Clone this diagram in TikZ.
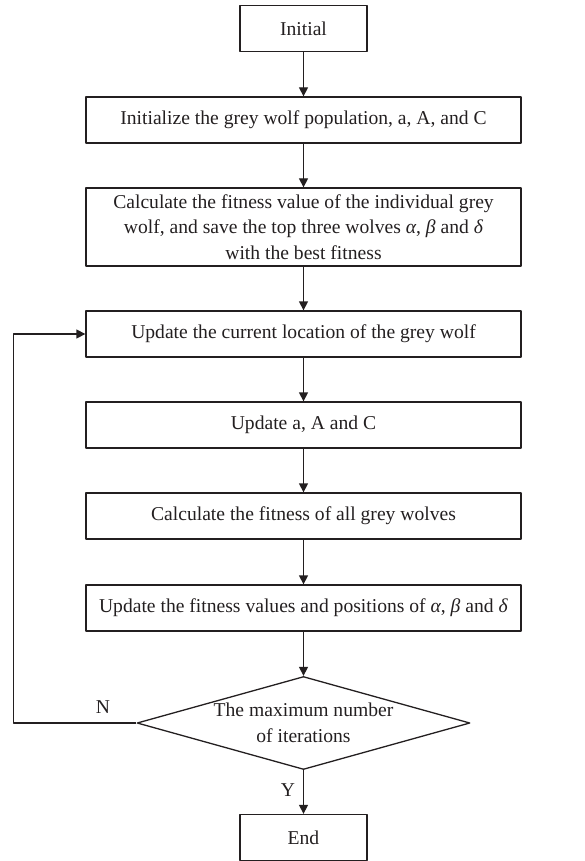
\documentclass[tikz,border=0pt]{standalone}
\usepackage{fontspec}
\setmainfont{Liberation Serif}
\usetikzlibrary{shapes.geometric,arrows.meta}
\definecolor{ink}{HTML}{231F20}

\begin{document}
\begin{tikzpicture}[x=0.5pt, y=-0.5pt, line width=0.65pt, line join=round, draw=ink, text=ink,
    txt/.style={font=\fontsize{9.8}{12.8}\selectfont, align=center},
    box/.style={txt, draw, rectangle, inner sep=0pt, minimum width=217.5pt, minimum height=23pt},
    endbox/.style={box, minimum width=63.5pt},
    decision/.style={txt, draw, diamond, aspect=3.58, inner sep=0pt, minimum width=166.5pt, minimum height=46.5pt},
    arr/.style={-{Triangle[length=4.5pt,width=4.5pt]}}]
    \useasboundingbox (0,0) rectangle (584,861);
    % blocks
    \node[endbox] (init) at (303.5,28.5) {Initial};
    \node[box] (initpop) at (303.5,120) {Initialize the grey wolf population, a, A, and C};
    \node[box, minimum height=39pt] (calcfit) at (303.5,227) {Calculate the fitness value of the individual grey\\ wolf, and save the top three wolves \textit{α}, \textit{β} and \textit{δ}\\ with the best fitness};
    \node[box] (updloc) at (303.5,334) {Update the current location of the grey wolf};
    \node[box] (upda) at (303.5,425) {Update a, A and C};
    \node[box] (calcall) at (303.5,516) {Calculate the fitness of all grey wolves};
    \node[box] (updfit) at (303.5,608) {Update the fitness values and positions of \textit{α}, \textit{β} and \textit{δ}};
    \node[decision] (maxit) at (303.5,723) {The maximum number\\ of iterations};
    \node[endbox] (end) at (303.5,837.5) {End};
    % arrows
    \draw[arr] (init) -- (initpop);
    \draw[arr] (initpop) -- (calcfit);
    \draw[arr] (calcfit) -- (updloc);
    \draw[arr] (updloc) -- (upda);
    \draw[arr] (upda) -- (calcall);
    \draw[arr] (calcall) -- (updfit);
    \draw[arr] (updfit) -- (maxit);
    \draw[arr] (maxit) -- (end);
    \draw[arr] (maxit.west) -- ++(-123,0) |- (updloc.west);
    % labels
    \node[txt] at (103,707) {N};
    \node[txt] at (288,790) {Y};
\end{tikzpicture}
\end{document}
